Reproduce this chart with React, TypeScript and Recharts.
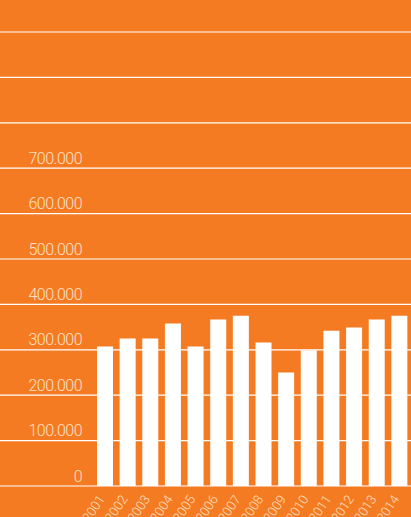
import { BarChart, Bar, XAxis, YAxis, CartesianGrid } from 'recharts';

const years = ['2001', '2002', '2003', '2004', '2005', '2006', '2007', '2008', '2009', '2010', '2011', '2012', '2013', '2014'];
const values = [307000, 325000, 325000, 358000, 307000, 367000, 375000, 316000, 250000, 299000, 342000, 349000, 367000, 375000];
const yTicks = [0, 100000, 200000, 300000, 400000, 500000, 600000, 700000, 800000, 900000, 1000000];
const maxLabel = 700000;

const data = years.map((year, i) => ({ year, value: values[i] }));

const ORANGE = '#F57B22';
const LABEL = '#FDE2C6';

const fmt = (v: number) => String(v).replace(/\B(?=(\d{3})+(?!\d))/g, '.');

const renderYTick = (props: any) => {
  const { y, payload, index } = props;
  if (payload.value > maxLabel) return <g key={index} />;
  return (
    <text key={index} x={82} y={y - 4.5} textAnchor="end" fill={LABEL} fontSize={16} fontWeight={300} fontFamily="Roboto, sans-serif" letterSpacing={-0.5}>
      {fmt(payload.value)}
    </text>
  );
};

const renderXTick = (props: any) => {
  const { x, y, payload, index } = props;
  return (
    <text
      key={index}
      transform={`translate(${x},${y + 5}) rotate(-56)`}
      textAnchor="end"
      fill={LABEL}
      fontSize={13}
      fontWeight={300}
      fontFamily="Roboto, sans-serif"
    >
      {payload.value}
    </text>
  );
};

export default function App() {
  return (
    <div style={{ width: 411, height: 517, background: ORANGE, overflow: 'hidden' }}>
      <style>{`body{margin:0}`}</style>
      <BarChart width={411} height={517} data={data} margin={{ top: 32, right: 0, left: 0, bottom: 0 }}>
        <CartesianGrid vertical={false} stroke="#FFFFFF" strokeWidth={1.2} />
        <XAxis
          dataKey="year"
          axisLine={false}
          tickLine={false}
          height={31}
          padding={{ left: 94, right: 0 }}
          interval={0}
          tick={renderXTick}
        />
        <YAxis
          mirror
          width={60}
          domain={[0, 1000000]}
          ticks={yTicks}
          axisLine={false}
          tickLine={false}
          interval={0}
          tick={renderYTick}
        />
        <Bar dataKey="value" fill="#FFFFFF" barSize={16} isAnimationActive={false} />
      </BarChart>
    </div>
  );
}
